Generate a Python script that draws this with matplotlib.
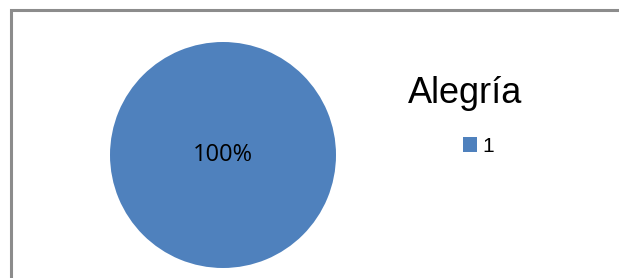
import matplotlib
matplotlib.use("Agg")
import matplotlib.pyplot as plt
from matplotlib.patches import Rectangle

labels = ["1"]
values = [100]
title = "Alegría"
color = "#4F81BD"

W, H = 619, 278
fig = plt.figure(figsize=(W/100, H/100), dpi=100)
fig.patch.set_facecolor("white")

# chart border (extends past right/bottom edges)
fig.add_artist(Rectangle((10.5/W, -0.1), 1.2, (H-9.5)/H + 0.1, transform=fig.transFigure,
                         fill=False, edgecolor="#8c8c8c", linewidth=2.2))

cx, cy, r = 223, 155, 113
ax = fig.add_axes([(cx-r)/W, (H-cy-r)/H, 2*r/W, 2*r/H])
wedges, texts, autotexts = ax.pie(values, colors=[color], startangle=90, autopct="%1.0f%%",
                                  pctdistance=0.0, radius=1.0,
                                  textprops=dict(fontsize=17, family="Open Sans", color="black"))
ax.set_xlim(-1, 1); ax.set_ylim(-1, 1)
ax.set_aspect("auto")
ax.axis("off")

fig.text(465/W, 1-103/H, title, fontsize=26, family="Liberation Sans", ha="center", va="baseline")
fig.add_artist(Rectangle((463/W, 1-152/H), 14/W, 15/H, transform=fig.transFigure,
                         facecolor=color, edgecolor="none"))
fig.text(482/W, 1-152/H, labels[0], fontsize=15, family="Liberation Sans", ha="left", va="baseline")

fig.savefig("out.png", dpi=100)
